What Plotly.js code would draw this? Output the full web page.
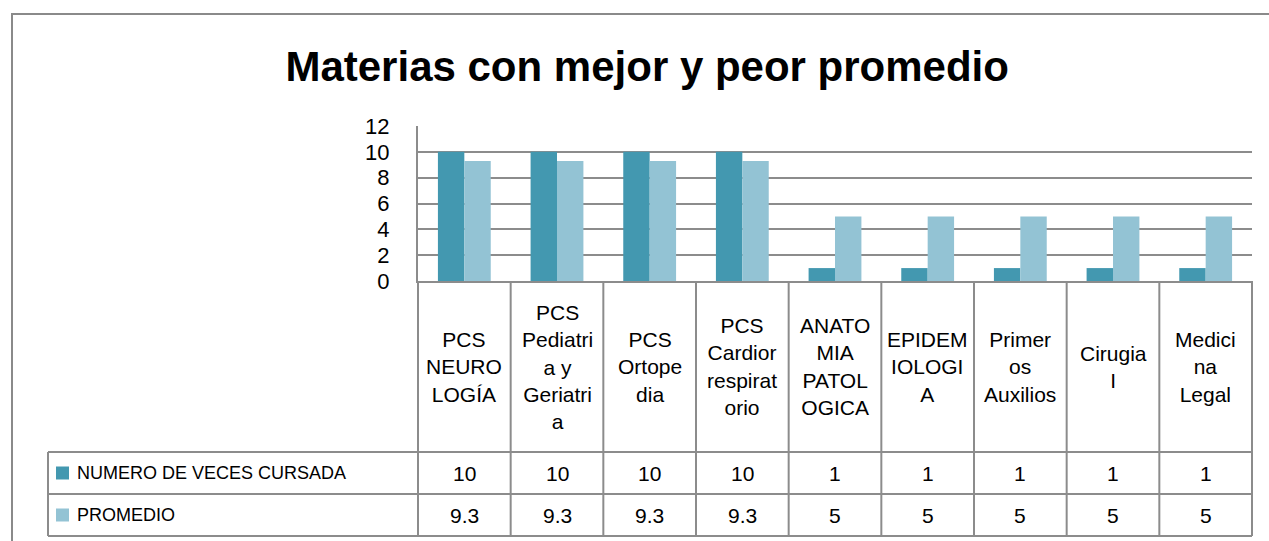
<!DOCTYPE html>
<html>
<head>
<meta charset="utf-8">
<script src="https://cdn.plot.ly/plotly-3.0.1.min.js"></script>
<style>html,body{margin:0;padding:0;background:#fff;}#chart{width:1269px;height:541px;}</style>
</head>
<body>
<div id="chart"></div>
<script>
// ---- data ----
const chartTitle = "Materias con mejor y peor promedio";
const categories = ["PCS NEUROLOGÍA", "PCS Pediatria y Geriatria", "PCS Ortopedia", "PCS Cardiorrespiratorio",
  "ANATOMIA PATOLOGICA", "EPIDEMIOLOGIA", "Primeros Auxilios", "Cirugia I", "Medicina Legal"];
const categoryLabels = ["PCS<br>NEURO<br>LOGÍA", "PCS<br>Pediatri<br>a y<br>Geriatri<br>a", "PCS<br>Ortope<br>dia",
  "PCS<br>Cardior<br>respirat<br>orio", "ANATO<br>MIA<br>PATOL<br>OGICA", "EPIDEM<br>IOLOGI<br>A",
  "Primer<br>os<br>Auxilios", "Cirugia<br>I", "Medici<br>na<br>Legal"];
const seriesNames = ["NUMERO DE VECES CURSADA", "PROMEDIO"];
const vecesCursada = [10, 10, 10, 10, 1, 1, 1, 1, 1];
const promedio = [9.3, 9.3, 9.3, 9.3, 5, 5, 5, 5, 5];
const seriesValues = [vecesCursada, promedio];
const seriesColors = ["#4398b0", "#93c3d4"];

// ---- layout geometry (pixels) ----
const W = 1269, H = 541;
const PL = 418, PR = 1252, PT = 126, PB = 281;
const headerBottom = 452, rowBottoms = [494, 536];
const tableLeft = 48;
const lineColor = "#8c8c8c";
const fontFam = "Liberation Sans, Arial, sans-serif";
const px = x => (x - PL) / (PR - PL);
const py = y => (PB - y) / (PB - PT);

const traces = seriesNames.map((name, s) => ({
  type: "bar",
  name: name,
  x: categories,
  y: seriesValues[s],
  marker: {color: seriesColors[s], line: {width: 0}},
  hoverinfo: "x+y+name"
}));

const shapes = [];
const annotations = [];
const line = (x0, y0, x1, y1, xref, yref) => shapes.push({type: "line", xref: xref || "paper", yref: yref || "paper",
  x0: x0, y0: y0, x1: x1, y1: y1, line: {color: lineColor, width: 2}, layer: "above"});

// outer chart border
shapes.push({type: "rect", xref: "paper", yref: "paper", x0: px(12), y0: py(14), x1: px(1290), y1: py(560),
  line: {color: "#8a8a8a", width: 2}, layer: "below"});

// table horizontal lines
[headerBottom].concat(rowBottoms).forEach(yy => line(px(tableLeft), py(yy), 1, py(yy)));
// table vertical lines: left of row labels, plot edges, category boundaries
line(px(tableLeft), py(headerBottom), px(tableLeft), py(rowBottoms[1]));
line(0, py(PB), 0, py(rowBottoms[1]));
line(1, py(PB), 1, py(rowBottoms[1]));
for (let i = 0; i < categories.length - 1; i++) {
  line(i + 0.5, py(PB), i + 0.5, py(rowBottoms[1]), "x", "paper");
}

// header labels
categories.forEach((c, i) => {
  annotations.push({xref: "x", yref: "paper", x: i, y: py((PB + headerBottom) / 2), text: categoryLabels[i],
    showarrow: false, xanchor: "center", yanchor: "middle", align: "center",
    font: {family: fontFam, size: 21, color: "#000"}});
});

// data rows
const rowTops = [headerBottom, rowBottoms[0]];
seriesNames.forEach((name, s) => {
  const yc = (rowTops[s] + rowBottoms[s]) / 2;
  shapes.push({type: "rect", xref: "paper", yref: "paper", x0: px(56), x1: px(69), y0: py(yc - 6.5), y1: py(yc + 6.5),
    fillcolor: seriesColors[s], line: {width: 0}});
  annotations.push({xref: "paper", yref: "paper", x: px(75), y: py(yc), text: name, showarrow: false,
    xanchor: "left", yanchor: "middle", font: {family: fontFam, size: 18, color: "#000"}});
  seriesValues[s].forEach((v, i) => {
    annotations.push({xref: "x", yref: "paper", x: i, y: py(yc), text: String(v), showarrow: false,
      xanchor: "center", yanchor: "middle", font: {family: fontFam, size: 21, color: "#000"}});
  });
});

const layout = {
  width: W, height: H,
  margin: {l: PL, r: W - PR, t: PT, b: H - PB, pad: 0},
  paper_bgcolor: "#fff", plot_bgcolor: "#fff",
  font: {family: fontFam, color: "#000"},
  title: {text: "<b>" + chartTitle + "</b>", xref: "container", yref: "container", x: 0.51, y: 1 - 66 / H,
    xanchor: "center", yanchor: "middle", font: {family: fontFam, size: 42, color: "#000"}},
  showlegend: false,
  barmode: "group", bargap: 0.43, bargroupgap: 0,
  xaxis: {type: "category", range: [-0.5, categories.length - 0.5], showticklabels: false, ticks: "",
    showgrid: false, zeroline: false, showline: true, linecolor: lineColor, linewidth: 2, fixedrange: true},
  yaxis: {range: [0, 12], dtick: 2, tick0: 0, ticks: "", ticklabelstandoff: 22, showgrid: true, gridcolor: lineColor,
    gridwidth: 2, zeroline: false, showline: true, linecolor: lineColor, linewidth: 2,
    tickfont: {family: fontFam, size: 22, color: "#000"}, fixedrange: true},
  shapes: shapes,
  annotations: annotations
};

Plotly.newPlot("chart", traces, layout, {displayModeBar: false, staticPlot: true});
</script>
</body>
</html>
